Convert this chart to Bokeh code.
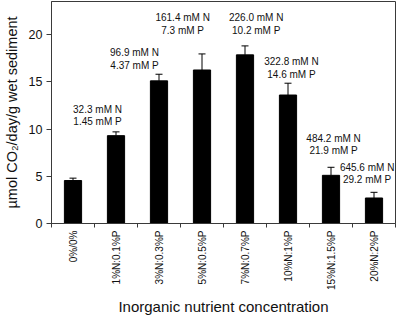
from bokeh.plotting import figure
from bokeh.models import ColumnDataSource, Range1d, FixedTicker, Whisker, TeeHead
from bokeh.core.properties import value
from bokeh.embed import file_html
from bokeh.resources import INLINE
import math

categories = ["0%/0%", "1%N:0.1%P", "3%N:0.3%P", "5%N:0.5%P", "7%N:0.7%P",
              "10%N:1%P", "15%N:1.5%P", "20%N:2%P"]
rates = [4.55, 9.3, 15.1, 16.25, 17.85, 13.6, 5.1, 2.7]
errors = [0.25, 0.4, 0.7, 1.7, 0.95, 1.25, 0.85, 0.6]

n_labels = ["32.3 mM N", "96.9 mM N", "161.4 mM N", "226.0 mM N",
            "322.8 mM N", "484.2 mM N", "645.6 mM N"]
p_labels = ["1.45 mM P", "4.37 mM P", "7.3 mM P", "10.2 mM P",
            "14.6 mM P", "21.9 mM P", "29.2 mM P"]
# annotation anchor positions (layout, in data units)
label_x = [1.07, 1.93, 3.05, 4.76, 5.58, 6.56, 7.34]
label_y = [12.1, 18.1, 21.8, 21.8, 17.1, 9.04, 5.96]

FONT = "Liberation Sans"
AX = "#3a3a3a"
TXT = "#111111"

centers = [i + 0.5 for i in range(len(categories))]
src = ColumnDataSource(dict(x=centers, top=rates,
                            upper=[r + e for r, e in zip(rates, errors)]))

p = figure(width=397, height=319, output_backend="svg", toolbar_location=None,
           x_range=Range1d(0, len(categories)), y_range=Range1d(0, 23.5))
p.min_border_left = 50
p.min_border_right = 2
p.min_border_top = 1
p.min_border_bottom = 96
p.background_fill_color = "white"
p.border_fill_color = "white"
p.outline_line_color = AX
p.outline_line_width = 1
p.xgrid.visible = False
p.ygrid.visible = False

p.vbar(x="x", top="top", width=0.4, bottom=0, source=src,
       fill_color="black", line_color="black")
w = Whisker(base="x", lower="top", upper="upper", source=src, dimension="height",
            line_color="black", line_width=1,
            upper_head=TeeHead(size=7, line_color="black", line_width=1),
            lower_head=None)
p.add_layout(w)

lsrc = ColumnDataSource(dict(x=label_x, y=label_y, n=n_labels, pp=p_labels))
p.text(x="x", y="y", text="n", source=lsrc, text_font=value(FONT),
       text_font_size="10px", text_align="center", text_baseline="middle",
       text_color=TXT)
p.text(x="x", y="y", text="pp", source=lsrc, text_font=value(FONT),
       text_font_size="10px", text_align="center", text_baseline="middle",
       text_color=TXT, y_offset=12.5)

# x axis
xa = p.xaxis[0]
xa.ticker = FixedTicker(ticks=centers, minor_ticks=list(range(len(categories) + 1)))
xa.major_label_overrides = {c: lab for c, lab in zip(centers, categories)}
xa.major_label_orientation = math.pi / 2
xa.major_tick_out = 0
xa.major_tick_in = 0
xa.minor_tick_out = 4
xa.minor_tick_in = 0
xa.minor_tick_line_color = AX
xa.major_label_standoff = 3
xa.major_label_text_font = FONT
xa.major_label_text_font_size = "10px"
xa.major_label_text_color = TXT
xa.axis_line_color = AX
xa.axis_label = "Inorganic nutrient concentration"
xa.axis_label_text_font = FONT
xa.axis_label_text_font_size = "15px"
xa.axis_label_text_font_style = "normal"
xa.axis_label_text_color = TXT
xa.axis_label_standoff = 5

# y axis
ya = p.yaxis[0]
ya.ticker = FixedTicker(ticks=[0, 5, 10, 15, 20], minor_ticks=[])
ya.major_tick_out = 5
ya.major_tick_in = 0
ya.major_tick_line_color = AX
ya.axis_line_color = AX
ya.major_label_standoff = 4
ya.major_label_text_font = FONT
ya.major_label_text_font_size = "12.5px"
ya.major_label_text_color = TXT
ya.axis_label = "µmol CO₂/day/g wet sediment"
ya.axis_label_text_font = FONT
ya.axis_label_text_font_size = "14.5px"
ya.axis_label_text_font_style = "normal"
ya.axis_label_text_color = TXT
ya.axis_label_standoff = 6

open("out.html", "w").write(file_html(p, INLINE))
